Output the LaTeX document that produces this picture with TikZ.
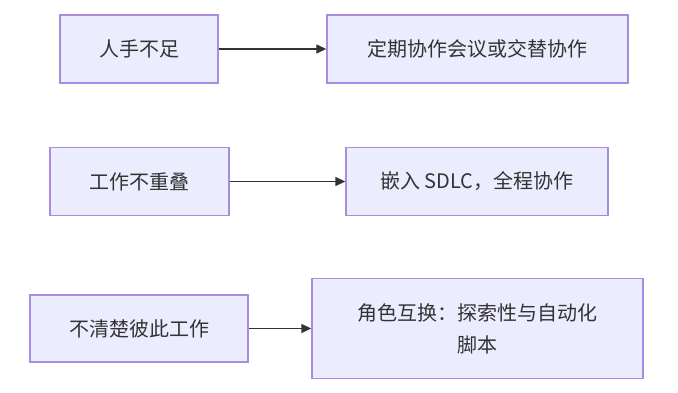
\documentclass[tikz,border=0pt]{standalone}
\usepackage{fontspec}
\setmainfont{Noto Sans CJK SC}
\usetikzlibrary{arrows.meta}
\definecolor{boxfill}{HTML}{ECECFF}
\definecolor{boxdraw}{HTML}{A98BE0}
\definecolor{txt}{HTML}{333333}
\tikzset{
  flowbox/.style={draw=boxdraw, fill=boxfill, line width=1.4pt, rectangle,
    inner sep=0pt, text=txt, font=\fontsize{20}{32}\selectfont, align=center},
  flowarrow/.style={draw=txt, line width=1.4pt, -{Triangle[length=10pt,width=9pt]}}
}
\begin{document}
\begin{tikzpicture}[x=1pt,y=-1pt]
\useasboundingbox (0,0) rectangle (678,393);
\node[flowbox, minimum width=158pt, minimum height=68pt] (a1) at (139,49) {人手不足};
\node[flowbox, minimum width=301pt, minimum height=68pt] (b1) at (477.5,49) {定期协作会议或交替协作};
\node[flowbox, minimum width=179pt, minimum height=68pt] (a2) at (139.5,181.5) {工作不重叠};
\node[flowbox, minimum width=262pt, minimum height=68pt] (b2) at (477,181.5) {嵌入 SDLC，全程协作};
\node[flowbox, minimum width=218pt, minimum height=67pt] (a3) at (139,328.5) {不清楚彼此工作};
\node[flowbox, minimum width=331pt, minimum height=100pt] (b3) at (477.5,328.5) {角色互换：探索性与自动化\\脚本};
\draw[flowarrow] (a1.east) -- (a1.east -| b1.west);
\draw[flowarrow] (a2.east) -- (a2.east -| b2.west);
\draw[flowarrow] (a3.east) -- (a3.east -| b3.west);
\end{tikzpicture}
\end{document}
